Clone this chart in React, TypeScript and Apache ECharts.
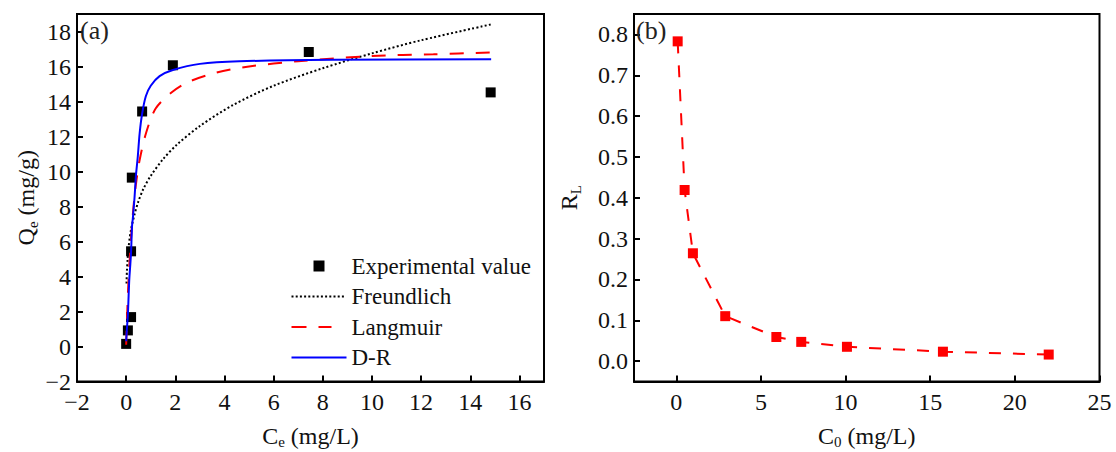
import React, { useEffect, useRef } from "react";
import * as echarts from "echarts";

// Panel (a): experimental data
const ceExp = [0, 0.07, 0.2, 0.2, 0.23, 0.65, 1.9, 7.43, 14.83];
const qeExp = [0.15, 0.92, 1.68, 5.44, 9.65, 13.43, 16.07, 16.83, 14.52];

// Panel (a): fitted curves
const frCe = [0.015, 0.03, 0.06, 0.1, 0.2, 0.35, 0.5, 0.7, 1.0, 1.5, 2.04, 3, 4.35, 6, 8, 10, 12, 14.83];
const frQe = [3.6, 4.3, 5.0, 5.7, 6.7, 7.6, 8.3, 9.0, 9.75, 10.7, 11.5, 12.6, 13.8, 14.9, 15.9, 16.75, 17.5, 18.4];

const laCe = [0, 0.05, 0.1, 0.2, 0.3, 0.4, 0.54, 0.81, 1.2, 1.83, 2.5, 3.67, 5, 7, 10, 12.5, 14.85];
const laQe = [0.1, 2.2, 3.9, 6.2, 8.0, 9.3, 10.6, 12.2, 13.6, 14.5, 15.1, 15.65, 16.0, 16.3, 16.6, 16.7, 16.8];

const drCe = [0, 0.03, 0.07, 0.1, 0.13, 0.17, 0.2, 0.24, 0.27, 0.34, 0.4, 0.47, 0.55, 0.65, 0.8, 1.0, 1.36, 1.9, 3, 4.6, 8.4, 14.85];
const drQe = [0.3, 1.0, 1.8, 2.9, 3.9, 4.7, 5.4, 6.9, 7.3, 8.5, 9.8, 10.8, 12.2, 13.3, 14.3, 14.9, 15.45, 15.8, 16.15, 16.3, 16.38, 16.42];

// Panel (b)
const c0 = [0.08, 0.49, 0.98, 2.89, 5.91, 7.38, 10.08, 15.75, 22.0];
const rl = [0.783, 0.419, 0.264, 0.11, 0.059, 0.047, 0.035, 0.023, 0.016];

// Tick values (panel b)
const xTicksB = [0, 5, 10, 15, 20, 25];
const yTicksB = [0, 0.1, 0.2, 0.3, 0.4, 0.5, 0.6, 0.7, 0.8];

const names = ["Experimental value", "Freundlich", "Langmuir", "D-R"];

const zip = (a: number[], b: number[]) => a.map((v, i) => [v, b[i]]);

const FONT = "Liberation Serif";

// legend icon shapes (55 x 12 box)
const BOX = "M0,0 L0,0 M55,12 L55,12 ";
const rectP = (x0: number, x1: number, y0: number, y1: number) =>
  `M${x0},${y0} L${x1},${y0} L${x1},${y1} L${x0},${y1} Z `;
const iconSquare = "path://" + BOX + rectP(22, 33, 0.5, 11.5);
const iconDots = (() => {
  let p = BOX;
  for (let x = 0; x + 2 <= 55; x += 4.2) p += rectP(x, x + 2, 5, 7);
  return "path://" + p;
})();
const iconDash = "path://" + BOX + rectP(0, 15, 5, 7) + rectP(27, 40, 5, 7);
const iconSolid = "path://" + BOX + rectP(0, 55, 5, 7);

export default function App() {
  const ref = useRef<HTMLDivElement>(null);
  useEffect(() => {
    if (!ref.current) return;
    const chart = echarts.init(ref.current, null, { renderer: "svg" });
    const minusFmt = (v: number) => (v < 0 ? "\u2212" + Math.abs(v) : String(v));
    const axisLabel = (vals: number[] | null, fmt: (v: number) => string, margin: number) => {
      const o: any = {
        formatter: fmt,
        fontSize: 24,
        fontFamily: FONT,
        color: "#111",
        margin,
      };
      if (vals) o.customValues = vals;
      else o.showMaxLabel = false;
      return o;
    };
    const axisTick = (vals: number[] | null) => {
      const o: any = {
        show: true,
        inside: true,
        length: 6,
        lineStyle: { color: "#000", width: 2 },
      };
      if (vals) o.customValues = vals;
      return o;
    };
    const rich = {
      n: { fontSize: 24, fontFamily: FONT, color: "#111", lineHeight: 26 },
      s: { fontSize: 15, fontFamily: FONT, color: "#111", lineHeight: 15, padding: [13, 0, 0, 0] },
    };
    const axLine = { show: true, onZero: false, lineStyle: { color: "#000", width: 2 } };
    const option: any = {
      animation: false,
      backgroundColor: "#fff",
      title: [
        { text: "(a)", left: 80, top: 17, padding: 0, textStyle: { fontFamily: FONT, fontSize: 26, fontWeight: "normal", color: "#222" } },
        { text: "(b)", left: 636, top: 17, padding: 0, textStyle: { fontFamily: FONT, fontSize: 26, fontWeight: "normal", color: "#222" } },
      ],
      grid: [
        { left: 77, top: 14, width: 467, height: 367.5, show: true, borderColor: "#000", borderWidth: 2, backgroundColor: "transparent", containLabel: false, outerBoundsMode: "none" },
        { left: 634, top: 14, width: 465.5, height: 367.5, show: true, borderColor: "#000", borderWidth: 2, backgroundColor: "transparent", containLabel: false, outerBoundsMode: "none" },
      ],
      legend: {
        data: [
          { name: names[0], icon: iconSquare, itemStyle: { color: "#000", opacity: 1 } },
          { name: names[1], icon: iconDots, itemStyle: { color: "#000" } },
          { name: names[2], icon: iconDash, itemStyle: { color: "#ff0000" } },
          { name: names[3], icon: iconSolid, itemStyle: { color: "#0000ff" } },
        ],
        orient: "vertical",
        left: 291.5,
        top: 254.5,
        padding: 0,
        itemWidth: 55,
        itemHeight: 12,
        itemGap: 7.5,
        textStyle: { fontFamily: FONT, fontSize: 23, color: "#111", lineHeight: 23 },
      },
      xAxis: [
        {
          gridIndex: 0, type: "value", min: -2, max: 17, interval: 2,
          axisLine: axLine, splitLine: { show: false },
          axisTick: axisTick(null), axisLabel: axisLabel(null, minusFmt, 8),
          name: "{n|C}{s|e}{n| (mg/L)}", nameLocation: "middle", nameGap: 41,
          nameTextStyle: { rich },
        },
        {
          gridIndex: 1, type: "value", min: -2.5, max: 25,
          axisLine: axLine, splitLine: { show: false },
          axisTick: axisTick(xTicksB), axisLabel: axisLabel(xTicksB, (v: number) => String(v), 8),
          name: "{n|C}{s|0}{n| (mg/L)}", nameLocation: "middle", nameGap: 41,
          nameTextStyle: { rich },
        },
      ],
      yAxis: [
        {
          gridIndex: 0, type: "value", min: -2, max: 19, interval: 2,
          axisLine: axLine, splitLine: { show: false },
          axisTick: axisTick(null), axisLabel: axisLabel(null, minusFmt, 6),
          name: "{n|Q}{s|e}{n| (mg/g)}", nameLocation: "middle", nameGap: 38,
          nameTextStyle: { rich },
        },
        {
          gridIndex: 1, type: "value", min: -0.05, max: 0.85,
          axisLine: axLine, splitLine: { show: false },
          axisTick: axisTick(yTicksB), axisLabel: axisLabel(yTicksB, (v: number) => v.toFixed(1), 6),
          name: "{n|R}{s|L}", nameLocation: "middle", nameGap: 52,
          nameTextStyle: { rich },
        },
      ],
      series: [
        {
          name: names[0], type: "scatter", xAxisIndex: 0, yAxisIndex: 0,
          symbol: "rect", symbolSize: 10, itemStyle: { color: "#000", opacity: 1 },
          data: zip(ceExp, qeExp), z: 2,
        },
        {
          name: names[1], type: "line", xAxisIndex: 0, yAxisIndex: 0, symbol: "none", smooth: 0.3,
          lineStyle: { color: "#000", width: 2, type: [2, 2.3] }, itemStyle: { color: "#000" },
          data: zip(frCe, frQe), z: 3,
        },
        {
          name: names[2], type: "line", xAxisIndex: 0, yAxisIndex: 0, symbol: "none", smooth: 0.3,
          lineStyle: { color: "#ff0000", width: 2, type: [14, 12] }, itemStyle: { color: "#ff0000" },
          data: zip(laCe, laQe), z: 4,
        },
        {
          name: names[3], type: "line", xAxisIndex: 0, yAxisIndex: 0, symbol: "none", smooth: 0.3,
          lineStyle: { color: "#0000ff", width: 2 }, itemStyle: { color: "#0000ff" },
          data: zip(drCe, drQe), z: 5,
        },
        {
          name: "RL", type: "line", xAxisIndex: 1, yAxisIndex: 1,
          symbol: "rect", symbolSize: 10, showSymbol: true,
          lineStyle: { color: "#ff0000", width: 2, type: [12, 12] }, itemStyle: { color: "#ff0000" },
          data: zip(c0, rl),
        },
      ],
    };
    chart.setOption(option);
    return () => chart.dispose();
  }, []);
  return (
    <div
      ref={ref}
      style={{ position: "fixed", left: 0, top: 0, width: 1116, height: 452, background: "#fff" }}
    />
  );
}
